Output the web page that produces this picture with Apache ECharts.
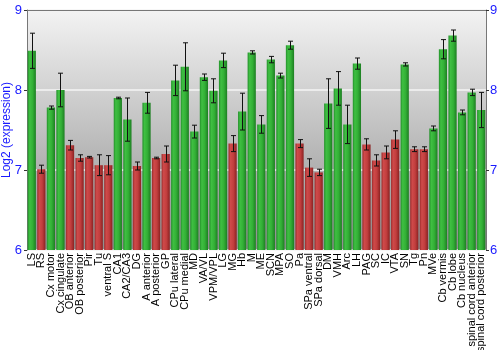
<!DOCTYPE html>
<html>
<head>
<meta charset="utf-8">
<script src="https://cdn.jsdelivr.net/npm/echarts@6/dist/echarts.min.js"></script>
<style>html,body{margin:0;padding:0;background:#fff}#c{width:500px;height:350px}</style>
</head>
<body>
<div id="c"></div>
<script>
// Brain regions and their mean log2 expression with standard error
const regions = ['LS','RS','Cx motor','Cx cingulate','OB anterior','OB posterior','Pir','Tu','ventral S','CA1','CA2/CA3','DG','A anterior','A posterior','GP','CPu lateral','CPu medial','MD','VA/VL','VPM/VPL','LG','MG','Hb','M','ME','SCN','MPA','SO','Pa','SPa ventral','SPa dorsal','DM','VMH','Arc','LH','PAG','SC','IC','VTA','SN','Tg','Pn','MVe','Cb vermis','Cb lobe','Cb nucleus','spinal cord anterior','spinal cord posterior'];
const expression = [8.49,7.01,7.78,8.00,7.31,7.15,7.16,7.06,7.06,7.90,7.63,7.05,7.84,7.15,7.20,8.12,8.29,7.48,8.16,7.99,8.37,7.33,7.73,8.47,7.57,8.38,8.18,8.56,7.33,7.03,6.97,7.83,8.02,7.57,8.33,7.32,7.12,7.22,7.38,8.32,7.26,7.26,7.52,8.51,8.68,7.72,7.97,7.75];
const stdErr = [0.22,0.05,0.02,0.21,0.06,0.04,0.01,0.13,0.12,0.01,0.27,0.05,0.13,0.01,0.10,0.19,0.30,0.08,0.04,0.15,0.09,0.10,0.23,0.02,0.11,0.04,0.03,0.05,0.05,0.11,0.04,0.31,0.21,0.24,0.07,0.07,0.07,0.08,0.11,0.02,0.03,0.03,0.03,0.12,0.07,0.03,0.04,0.22];
const yTicks = [6, 7, 8, 9];
const highLevel = 7.45; // regions above this are shown in green

const greenFill = new echarts.graphic.LinearGradient(0,0,1,0,[
  {offset:0,color:'#23902a'},{offset:0.25,color:'#3fbf42'},{offset:0.6,color:'#33b036'},{offset:1,color:'#1d7e22'}]);
const redFill = new echarts.graphic.LinearGradient(0,0,1,0,[
  {offset:0,color:'#9c2c2c'},{offset:0.25,color:'#cf4a4a'},{offset:0.6,color:'#c23e3e'},{offset:1,color:'#8a2222'}]);

const barData = expression.map(v => ({
  value: v,
  itemStyle: { color: v > highLevel ? greenFill : redFill }
}));
const errData = expression.map((v,i) => [i, v - stdErr[i], v + stdErr[i]]);

const blue = '#1a1aff';
const chart = echarts.init(document.getElementById('c'), null, {renderer:'canvas'});
chart.setOption({
  animation: false,
  grid: { left: 27, right: 14, top: 10, bottom: 100,
    outerBoundsMode: 'none', containLabel: false,
    show: true, borderWidth: 0,
    backgroundColor: new echarts.graphic.LinearGradient(0,0,0,1,[
      {offset:0,color:'#f3f3f3'},{offset:1,color:'#8e8e8e'}]) },
  xAxis: {
    type: 'category', data: regions,
    axisTick: { show: false },
    axisLine: { show: false },
    axisLabel: { rotate: 90, interval: 0, margin: 3, color: '#000',
      fontFamily: 'Liberation Sans', fontSize: 11, lineHeight: 11 }
  },
  yAxis: [{
    type: 'value', min: 6, max: 9, interval: 1,
    name: 'Log2 (expression)', nameLocation: 'middle', nameGap: 14,
    nameMoveOverlap: false,
    nameTextStyle: { color: blue, fontFamily: 'Liberation Sans', fontSize: 12 },
    axisLine: { show: true, lineStyle: { color: '#777', width: 1 } },
    axisTick: { show: true, length: 3, lineStyle: { color: '#333' } },
    axisLabel: { color: blue, fontFamily: 'Liberation Sans', fontSize: 13, margin: 5,
      formatter: v => yTicks.includes(v) ? String(v) : '' },
    splitLine: { show: true, lineStyle: { color: '#f4f4f4', width: 1.5 } }
  },{
    type: 'value', min: 6, max: 9, interval: 1, position: 'right',
    axisLine: { show: true, lineStyle: { color: '#777', width: 1 } },
    axisTick: { show: true, length: 3, lineStyle: { color: '#333' } },
    axisLabel: { color: blue, fontFamily: 'Liberation Sans', fontSize: 13, margin: 4 },
    splitLine: { show: false }
  }],
  series: [{
    type: 'bar', data: barData, barWidth: '86%', z: 2
  },{
    type: 'custom', data: errData, z: 3,
    renderItem: (params, api) => {
      const i = api.value(0);
      const lo = api.coord([i, api.value(1)]);
      const hi = api.coord([i, api.value(2)]);
      const x = Math.round(lo[0]) + 0.5;
      const cap = 2.5;
      const st = { stroke: '#111', lineWidth: 1 };
      return { type: 'group', children: [
        { type: 'line', shape: { x1: x, y1: hi[1], x2: x, y2: lo[1] }, style: st },
        { type: 'line', shape: { x1: x-cap, y1: hi[1], x2: x+cap, y2: hi[1] }, style: st },
        { type: 'line', shape: { x1: x-cap, y1: lo[1], x2: x+cap, y2: lo[1] }, style: st }
      ]};
    }
  }],
  graphic: [{
    type: 'line', z: 10,
    shape: { x1: 27, y1: 10.5, x2: 486, y2: 10.5 },
    style: { stroke: '#777', lineWidth: 1 }
  }]
});
</script>
</body>
</html>
